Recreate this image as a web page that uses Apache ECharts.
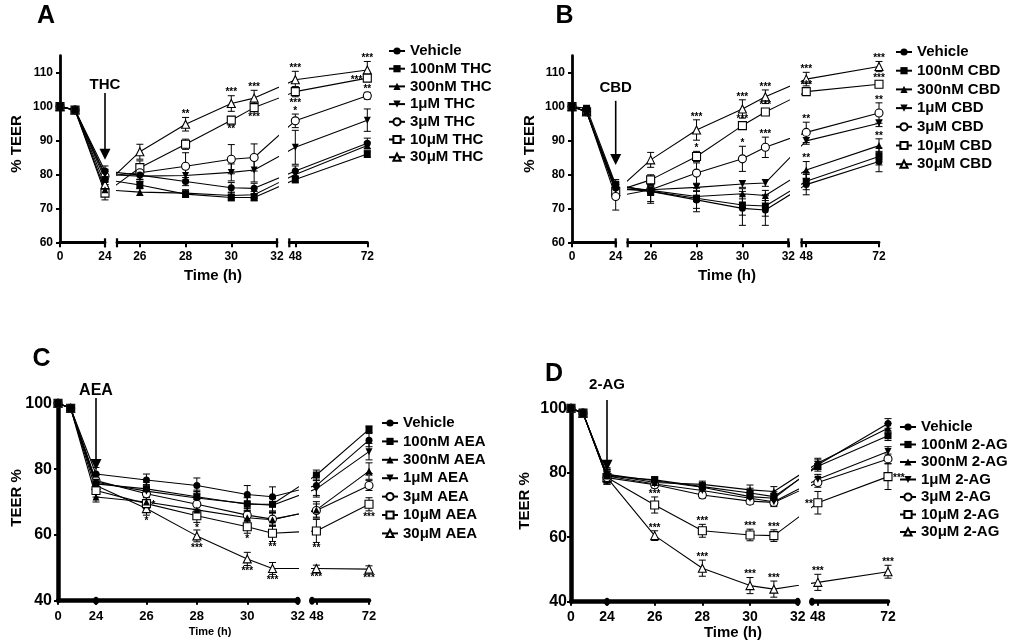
<!DOCTYPE html>
<html>
<head>
<meta charset="utf-8">
<script src="https://cdn.jsdelivr.net/npm/echarts@6/dist/echarts.min.js"></script>
<style>html,body{margin:0;padding:0;background:#fff}#c{width:1010px;height:642px}</style>
</head>
<body>
<div id="c"></div>
<script>
// ---------------- DATA ----------------
const times = [0, 8, 24, 26, 28, 30, 31, 48, 72];
const treatments = ['Vehicle', '100nM', '300nM', '1μM', '3μM', '10μM', '30μM'];
const drugs = ['THC', 'CBD', 'AEA', '2-AG'];
const yTicksAB = [60, 70, 80, 90, 100, 110];
const yTicksCD = [40, 60, 80, 100];
const xTicksSeg1 = [0, 24];
const xTicksSeg2 = [26, 28, 30, 32];
const xTicksSeg3 = [48, 72];

// % TEER, rows = treatments, columns = times
const meanTHC = [
  [100, 99, 81, 79.8, 77.9, 76.1, 75.9, 81, 89.2],
  [100, 99, 78.5, 76.9, 74.2, 73.2, 73.2, 78.5, 86],
  [100, 99, 75.5, 74.8, 74.5, 73.8, 74, 80, 88.5],
  [100, 99, 80, 79.5, 79.7, 80.6, 81.3, 88, 96],
  [100, 99, 79.5, 80.5, 82.4, 84.5, 85, 95.8, 103.2],
  [100, 99, 74.5, 82, 88.9, 96, 99.7, 104.4, 108.4],
  [100, 99, 77, 86.7, 94.8, 100.9, 102.5, 107.9, 110.8]
];
const semTHC = [
  [0, 0.5, 1.5, 1.2, 1.2, 1.5, 1.5, 1.5, 1.5],
  [0, 0.5, 1.5, 1, 1, 1, 1, 1, 1],
  [0, 0.5, 1.5, 1, 1, 1, 1, 1, 1],
  [0, 0.5, 1.5, 1.5, 2, 2.5, 3.5, 5, 3.3],
  [0, 0.5, 1.5, 2, 4, 4.3, 4, 2, 1],
  [0, 0.5, 2, 2, 1.5, 1, 1, 1.5, 1],
  [0, 0.5, 1.5, 2.2, 2, 2.3, 2.3, 2.5, 2.5]
];
const meanCBD = [
  [100, 98.5, 76, 75, 72.5, 70, 69.5, 77, 83.8],
  [100, 99.5, 77, 75, 73, 71, 70.7, 78, 85.3],
  [100, 98.5, 76.5, 75.3, 73.5, 74.3, 73.8, 81.3, 88.5],
  [100, 98.5, 75.5, 75.5, 76.2, 77.2, 77.5, 89.9, 95.1],
  [100, 98.5, 73.5, 75.5, 80.4, 84.6, 88, 92.4, 98.1],
  [100, 98.5, 75, 78.4, 85.3, 94.4, 98.4, 104.4, 106.6],
  [100, 98.5, 75, 84.3, 93.1, 99.3, 102.9, 108.1, 111.8]
];
const semCBD = [
  [0, 0.5, 1.5, 3.5, 3.5, 5, 4.5, 3, 3],
  [0, 0.5, 1.5, 3, 3, 3, 3, 2.5, 2.5],
  [0, 0.5, 1.5, 1.5, 1.5, 1.5, 1.5, 2.5, 2],
  [0, 0.5, 1.5, 1, 1, 1, 1, 1, 1],
  [0, 0.5, 4, 1.5, 3, 3.7, 3, 3, 3],
  [0, 0.5, 2, 1.5, 1.5, 1, 1, 1, 1],
  [0, 0.5, 2, 2.2, 3, 2.7, 2, 2, 1.5]
];
const meanAEA = [
  [100, 98.5, 78.5, 76.7, 75, 72.3, 71.6, 75, 88.8],
  [100, 98.5, 75.5, 74, 71.6, 69.3, 69.3, 78.2, 92.1],
  [100, 98.5, 71.5, 70, 67.6, 65.2, 64.6, 67.6, 79.4],
  [100, 98.5, 76, 73.3, 71.2, 69.5, 69, 74, 85.3],
  [100, 98.5, 76.5, 72.5, 69.3, 66, 64.8, 67.4, 75],
  [100, 98.5, 73.5, 69.5, 65.8, 62.5, 60.5, 61.2, 69.3],
  [100, 98.5, 75, 68, 59.7, 52.7, 49.8, 49.8, 49.6]
];
const semAEA = [
  [0, 0.5, 2, 1.8, 2.3, 2.7, 3, 3, 2],
  [0, 0.5, 2, 2, 2, 2, 2, 1.5, 1],
  [0, 0.5, 1.5, 2, 2, 2, 2, 2.5, 2.5],
  [0, 0.5, 2, 2, 2, 2, 2, 2.5, 2.5],
  [0, 0.5, 2, 2, 2, 2, 2, 2, 1.5],
  [0, 0.5, 2, 2, 2, 2, 2.5, 3.5, 2],
  [0, 0.5, 2, 2, 1.8, 2, 1.8, 1, 1]
];
const mean2AG = [
  [100, 98.5, 79.5, 77.5, 75.5, 72.6, 72.1, 82.5, 95.3],
  [100, 98.5, 79, 77.8, 75.7, 73.7, 72.6, 82, 91.5],
  [100, 98.5, 79.5, 77, 76.4, 74.7, 74.2, 83, 93.8],
  [100, 98.5, 79, 76.5, 74.5, 72.1, 71, 78, 86.6],
  [100, 98.5, 78.5, 76.3, 73.1, 71.2, 70.8, 77, 84.3],
  [100, 98.5, 78.5, 70, 62, 60.7, 60.5, 70.7, 78.8],
  [100, 98.5, 78.5, 60.5, 50.4, 45, 43.9, 46, 49.3]
];
const sem2AG = [
  [0, 0.5, 2, 1, 1.5, 1.5, 1.5, 1.5, 1.5],
  [0, 0.5, 2, 1, 1, 1.5, 1.5, 1.5, 1.5],
  [0, 0.5, 2, 1, 1, 1.5, 1.5, 1.5, 1.5],
  [0, 0.5, 2, 1, 1, 1.5, 1.5, 1.5, 1.5],
  [0, 0.5, 2, 1, 1, 1, 1, 1.5, 1.5],
  [0, 0.5, 2, 2.5, 2, 1.8, 1.8, 3.5, 4],
  [0, 0.5, 2, 1.5, 2.5, 2.5, 2.5, 2.5, 2]
];
// significance marks: [treatment index, time index, text, side]
const starsTHC = [
  [6, 4, '**', 'up'], [6, 5, '***', 'up'], [6, 6, '***', 'up'], [6, 7, '***', 'up'], [6, 8, '***', 'up'],
  [5, 5, '**', 'down'], [5, 6, '***', 'down'], [5, 7, '***', 'down'], [5, 8, '***', 'left'],
  [4, 7, '*', 'up'], [4, 8, '**', 'up']
];
const starsCBD = [
  [6, 4, '***', 'up'], [6, 5, '***', 'up'], [6, 6, '***', 'up'], [6, 7, '***', 'up'], [6, 8, '***', 'up'],
  [5, 4, '*', 'up'], [5, 5, '***', 'up'], [5, 6, '***', 'up'], [5, 7, '***', 'up'], [5, 8, '***', 'up'],
  [4, 5, '*', 'up'], [4, 6, '***', 'up'], [4, 7, '**', 'up'], [4, 8, '**', 'up'],
  [2, 7, '**', 'up'], [2, 8, '**', 'up']
];
const starsAEA = [
  [6, 3, '*', 'down'], [6, 4, '***', 'down'], [6, 5, '***', 'down'], [6, 6, '***', 'down'], [6, 7, '***', 'down'], [6, 8, '***', 'down'],
  [5, 3, '*', 'right'], [5, 4, '*', 'down'], [5, 5, '*', 'down'], [5, 6, '**', 'down'], [5, 7, '**', 'down'], [5, 8, '***', 'down'],
  [4, 8, '**', 'up']
];
const stars2AG = [
  [6, 3, '***', 'up'], [6, 4, '***', 'up'], [6, 5, '***', 'up'], [6, 6, '***', 'up'], [6, 7, '***', 'up'], [6, 8, '***', 'up'],
  [5, 3, '***', 'up'], [5, 4, '***', 'up'], [5, 5, '***', 'up'], [5, 6, '***', 'up'], [5, 7, '**', 'left'], [5, 8, '***', 'right']
];

// ---------------- STYLE / LAYOUT ----------------
const FONT = '"Liberation Sans", Arial, Helvetica, sans-serif';
const MARKERS = [
  { symbol: 'circle', size: 7, fill: '#000' },
  { symbol: 'rect', size: 7, fill: '#000' },
  { symbol: 'triangle', size: 7, fill: '#000' },
  { symbol: 'path://M0,0L10,0L5,9Z', size: 7, fill: '#000' },
  { symbol: 'circle', size: 8, fill: '#fff' },
  { symbol: 'rect', size: 8, fill: '#fff' },
  { symbol: 'triangle', size: 8, fill: '#fff' }
];

const PANELS = [
  { key: 'A', drug: drugs[0], mean: meanTHC, sem: semTHC, stars: starsTHC,
    top: 55.7, bottom: 242.3, yMin: 60, yMax: 115, yTicks: yTicksAB, axisW: 2.8, brk: 'cap',
    segs: [{ l: 60, r: 105, min: 0, max: 24, ticks: xTicksSeg1 }, { l: 117, r: 277, min: 25, max: 32, ticks: xTicksSeg2 }, { l: 289.3, r: 367.3, min: 46, max: 72, ticks: xTicksSeg3 }],
    yFont: 12, xFont: 12, xMargin: 8, yMargin: 7,
    letter: [46, 16], yTitle: ['% TEER', 17, 144, 15], xTitle: [213, 276, 15],
    legend: { left: 388, top: 43.5, gap: 2.7 }, arrow: { label: 106.4, from: 104, to: 84.3, size: 15 } },
  { key: 'B', drug: drugs[1], mean: meanCBD, sem: semCBD, stars: starsCBD,
    top: 55.7, bottom: 242.3, yMin: 60, yMax: 115, yTicks: yTicksAB, axisW: 2.8, brk: 'cap',
    segs: [{ l: 572, r: 615.7, min: 0, max: 24, ticks: xTicksSeg1 }, { l: 627.7, r: 788.3, min: 25, max: 32, ticks: xTicksSeg2 }, { l: 801.7, r: 879, min: 46.5, max: 72, ticks: xTicksSeg3 }],
    yFont: 12, xFont: 12, xMargin: 8, yMargin: 7,
    letter: [564.5, 16], yTitle: ['% TEER', 530, 144, 15], xTitle: [727, 276, 15],
    legend: { left: 895, top: 44.5, gap: 3.7 }, arrow: { label: 105.5, from: 101.7, to: 82.8, size: 15 } },
  { key: 'C', drug: drugs[2], mean: meanAEA, sem: semAEA, stars: starsAEA,
    top: 403.3, bottom: 600.7, yMin: 40, yMax: 100, yTicks: yTicksCD, axisW: 4.5, brk: 'dot',
    segs: [{ l: 58, r: 96, min: 0, max: 24, ticks: xTicksSeg1 }, { l: 96, r: 297.7, min: 24, max: 32, ticks: xTicksSeg2 }, { l: 312, r: 369, min: 46, max: 72, ticks: xTicksSeg3 }],
    yFont: 16, xFont: 13, xMargin: 9, yMargin: 6,
    letter: [41.5, 359], yTitle: ['TEER %', 17, 498, 15], xTitle: [210, 632, 11],
    legend: { left: 381, top: 415.5, gap: 3.4 }, arrow: { label: 104, from: 101.6, to: 79.7, size: 16 } },
  { key: 'D', drug: drugs[3], mean: mean2AG, sem: sem2AG, stars: stars2AG,
    top: 408.3, bottom: 601.7, yMin: 40, yMax: 100, yTicks: yTicksCD, axisW: 4.5, brk: 'dot',
    segs: [{ l: 571, r: 607, min: 0, max: 24, ticks: xTicksSeg1 }, { l: 607, r: 797.7, min: 24, max: 32, ticks: xTicksSeg2 }, { l: 812, r: 888, min: 46, max: 72, ticks: xTicksSeg3 }],
    yFont: 16, xFont: 14, xMargin: 8, yMargin: 4,
    letter: [554, 374], yTitle: ['TEER %', 525, 501, 15], xTitle: [733, 633, 15],
    legend: { left: 899, top: 419.5, gap: 2.5 }, arrow: { label: 107.2, from: 102.6, to: 80.6, size: 15 } }
];

// ---------------- BROKEN-AXIS HELPERS ----------------
function segIndex(P, t) {
  if (t <= P.segs[0].max) return 0;
  if (t <= P.segs[1].max) return 1;
  return 2;
}
function pixelX(P, t) {
  const S = P.segs[segIndex(P, t)];
  return S.l + (t - S.min) / (S.max - S.min) * (S.r - S.l);
}
function virtualX(S, px) {
  return S.min + (px - S.l) / (S.r - S.l) * (S.max - S.min);
}

// ---------------- BUILD OPTION ----------------
const grids = [], xAxes = [], yAxes = [], series = [], legends = [];

PANELS.forEach((P) => {
  P.gridIdx = [];
  P.segs.forEach((S, si) => {
    const gi = grids.length;
    P.gridIdx.push(gi);
    grids.push({ left: S.l, top: P.top, width: S.r - S.l, height: P.bottom - P.top,
      containLabel: false, outerBoundsMode: 'none', show: false });
    xAxes.push({
      type: 'value', gridIndex: gi, min: S.min, max: S.max, position: 'bottom',
      axisLine: { show: true, onZero: false, lineStyle: { color: '#000', width: P.axisW } },
      axisTick: { show: true, customValues: S.ticks, length: P.brk === 'cap' ? 5 : 4, lineStyle: { color: '#000', width: 2 } },
      axisLabel: { show: true, customValues: S.ticks, color: '#000', fontWeight: 'bold', fontSize: P.xFont, fontFamily: FONT, margin: P.xMargin },
      splitLine: { show: false }
    });
    yAxes.push({
      type: 'value', gridIndex: gi, min: P.yMin, max: P.yMax, show: si === 0,
      axisLine: { show: true, onZero: false, lineStyle: { color: '#000', width: P.axisW } },
      axisTick: { show: true, customValues: P.yTicks, length: 4, lineStyle: { color: '#000', width: 2 } },
      axisLabel: { show: true, customValues: P.yTicks, color: '#000', fontWeight: 'bold', fontSize: P.yFont, fontFamily: FONT, margin: P.yMargin },
      splitLine: { show: false }
    });
  });
});

// line series (drawn from highest dose to vehicle so filled markers end on top)
PANELS.forEach((P) => {
  P.segs.forEach((S, si) => {
    const gi = P.gridIdx[si];
    for (let k = P.mean.length - 1; k >= 0; k--) {
      const row = P.mean[k];
      const m = MARKERS[k];
      const data = times.map((t, i) => {
        const own = segIndex(P, t) === si;
        if (own) return [t, row[i]];
        return { value: [virtualX(S, pixelX(P, t)), row[i]], symbol: 'none' };
      });
      series.push({
        type: 'line', name: k === 0 ? 'Vehicle' : treatments[k] + ' ' + P.drug,
        xAxisIndex: gi, yAxisIndex: gi, data, clip: true,
        symbol: m.symbol, symbolSize: m.size, showAllSymbol: true,
        itemStyle: { color: m.fill, borderColor: '#000', borderWidth: m.fill === '#fff' ? 1.1 : 0 },
        lineStyle: { color: '#000', width: 1.1 },
        z: 3, silent: true, animation: false, emphasis: { disabled: true }
      });
    }
  });
});

// error bars and significance marks
PANELS.forEach((P, pi) => {
  P.segs.forEach((S, si) => {
    const gi = P.gridIdx[si];
    const eb = [];
    P.mean.forEach((row, k) => {
      times.forEach((t, i) => {
        if (segIndex(P, t) === si && P.sem[k][i] > 0) eb.push([t, row[i], P.sem[k][i]]);
      });
    });
    series.push({
      type: 'custom', name: 'sem' + pi + '_' + si, xAxisIndex: gi, yAxisIndex: gi,
      data: eb, encode: { x: 0, y: 1 }, clip: false, silent: true, animation: false, z: 2,
      renderItem(params, api) {
        const t = api.value(0), v = api.value(1), e = api.value(2);
        const a = api.coord([t, v + e]), b = api.coord([t, v - e]);
        const hw = 3.5, st = { stroke: '#000', lineWidth: 1 };
        return { type: 'group', children: [
          { type: 'line', shape: { x1: a[0], y1: a[1], x2: b[0], y2: b[1] }, style: st },
          { type: 'line', shape: { x1: a[0] - hw, y1: a[1], x2: a[0] + hw, y2: a[1] }, style: st },
          { type: 'line', shape: { x1: b[0] - hw, y1: b[1], x2: b[0] + hw, y2: b[1] }, style: st }
        ] };
      }
    });
    const rows = P.stars.filter(s => segIndex(P, times[s[1]]) === si)
      .map(s => [times[s[1]], P.mean[s[0]][s[1]], P.sem[s[0]][s[1]], s[2], s[3]]);
    if (rows.length) {
      series.push({
        type: 'custom', name: 'sig' + pi + '_' + si, xAxisIndex: gi, yAxisIndex: gi,
        data: rows.map(r => [r[0], r[1], r[2]]), encode: { x: 0, y: 1 }, clip: false, silent: true, animation: false, z: 4,
        renderItem(params, api) {
          const r = rows[params.dataIndex];
          const t = r[0], v = r[1], e = r[2];
          let p, align = 'center', va = 'middle';
          if (r[4] === 'up') { p = api.coord([t, v + e]); p[1] += 2; va = 'bottom'; }
          else if (r[4] === 'down') { p = api.coord([t, v - e]); p[1] += 1; va = 'top'; }
          else if (r[4] === 'left') { p = api.coord([t, v]); p[0] -= 5; p[1] += 2; align = 'right'; }
          else { p = api.coord([t, v]); p[0] += 5; p[1] += 2; align = 'left'; }
          return { type: 'text', x: p[0], y: p[1],
            style: { text: r[3], fontSize: 10, fontWeight: 'bold', fontFamily: FONT, fill: '#000', align, verticalAlign: va } };
        }
      });
    }
  });
  legends.push({
    orient: 'vertical', left: P.legend.left, top: P.legend.top, itemGap: P.legend.gap,
    itemWidth: 16, itemHeight: 9, selectedMode: false, padding: 0,
    data: treatments.map((tr, k) => k === 0 ? 'Vehicle' : tr + ' ' + P.drug),
    textStyle: { fontSize: 15, fontWeight: 'bold', color: '#000', fontFamily: FONT, lineHeight: 15 }
  });
});

const option = {
  animation: false,
  backgroundColor: '#fff',
  textStyle: { fontFamily: FONT },
  grid: grids, xAxis: xAxes, yAxis: yAxes, legend: legends, series
};

const chart = echarts.init(document.getElementById('c'), null, { renderer: 'canvas', width: 1010, height: 642 });
chart.setOption(option);

// ---------------- ANNOTATIONS ----------------
function txt(x, y, text, size, rot) {
  return { type: 'text', x, y, rotation: rot || 0, z: 10, silent: true,
    style: { text, fontSize: size, fontWeight: 'bold', fontFamily: FONT, fill: '#000', align: 'center', verticalAlign: 'middle' } };
}
const gfx = [];
PANELS.forEach((P) => {
  gfx.push(txt(P.letter[0], P.letter[1], P.key, 25));
  gfx.push(txt(P.yTitle[1], P.yTitle[2], P.yTitle[0], P.yTitle[3], Math.PI / 2));
  gfx.push(txt(P.xTitle[0], P.xTitle[1], 'Time (h)', P.xTitle[2]));
  const g0 = P.gridIdx[0];
  const top = chart.convertToPixel({ gridIndex: g0 }, [24, P.arrow.from]);
  const tip = chart.convertToPixel({ gridIndex: g0 }, [24, P.arrow.to]);
  const lab = chart.convertToPixel({ gridIndex: g0 }, [24, P.arrow.label]);
  gfx.push(txt(lab[0], lab[1], P.drug, P.arrow.size));
  gfx.push({ type: 'line', z: 10, silent: true, shape: { x1: top[0], y1: top[1], x2: tip[0], y2: tip[1] - 8 }, style: { stroke: '#000', lineWidth: 1.6 } });
  gfx.push({ type: 'polygon', z: 10, silent: true, shape: { points: [[tip[0] - 5.5, tip[1] - 11], [tip[0] + 5.5, tip[1] - 11], [tip[0], tip[1]]] }, style: { fill: '#000' } });
  // axis break marks
  const ends = [[0, P.segs[0].max], [1, P.segs[1].min], [1, P.segs[1].max], [2, P.segs[2].min]];
  ends.forEach(([si, x]) => {
    const p = chart.convertToPixel({ gridIndex: P.gridIdx[si] }, [x, P.yMin]);
    if (P.brk === 'cap') {
      gfx.push({ type: 'line', z: 10, silent: true, shape: { x1: p[0], y1: p[1] - 4, x2: p[0], y2: p[1] + 5 }, style: { stroke: '#000', lineWidth: 2.2 } });
    } else if (!(si === 1 && x === P.segs[1].min)) {
      gfx.push({ type: 'ellipse', z: 10, silent: true, shape: { cx: p[0], cy: p[1], rx: 3, ry: 4 }, style: { fill: '#000' } });
    }
  });
});
chart.setOption({ graphic: gfx });
</script>
</body>
</html>
